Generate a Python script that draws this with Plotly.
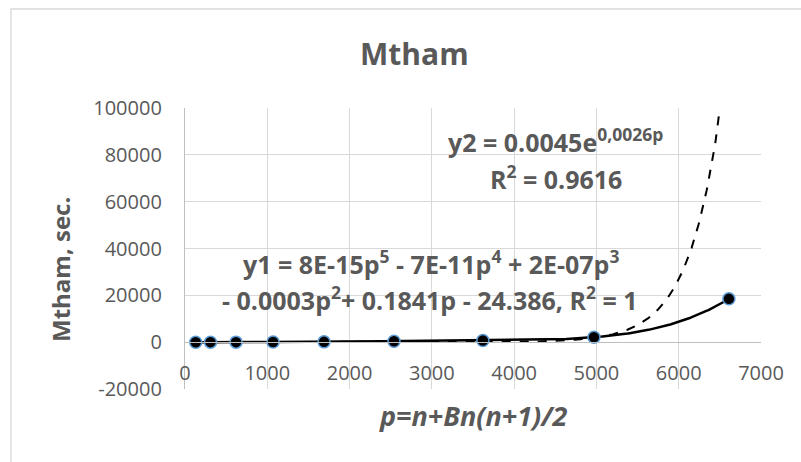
import numpy as np
import plotly.graph_objects as go

# Measured run times (seconds) against problem size p
p_vals = [130, 310, 620, 1070, 1690, 2540, 3620, 4970, 6610]
t_vals = [0.5, 3, 15, 45, 130, 380, 700, 2100, 18500]

# Exponential trendline y2 = a * e^(b p), coefficients as printed on the chart
exp_a = 0.0045
exp_b = 0.0026

x_tick_vals = [0, 1000, 2000, 3000, 4000, 5000, 6000, 7000]
y_tick_vals = [-20000, 0, 20000, 40000, 60000, 80000, 100000]
y_tick_text = ["-20000", "0", "20000", "40000", "60000", "80000", "100000"]

title_text = "Mtham"
x_title = "p=n+Bn(n+1)/2"
y_title = "Mtham, sec."
eq_y2 = ["y2 = 0.0045e<sup>0,0026p</sup>", "R<sup>2</sup> = 0.9616"]
eq_y1 = ["y1 = 8E-15p<sup>5</sup> - 7E-11p<sup>4</sup> + 2E-07p<sup>3</sup>",
         "- 0.0003p<sup>2</sup>+ 0.1841p - 24.386, R<sup>2</sup> = 1"]

W, H = 801, 462
ML, MR, MT, MB = 185, 40, 108, 73
FONT = "Open Sans"
GREY = "#595959"

# trendline curves
p_fine = np.linspace(min(p_vals), max(p_vals), 600)
poly_coef = np.polyfit(p_vals, t_vals, 5)
poly_curve = np.polyval(poly_coef, p_fine)
exp_curve = exp_a * np.exp(exp_b * p_fine)

fig = go.Figure()
fig.add_trace(go.Scatter(x=p_fine, y=exp_curve, mode="lines",
                         line=dict(color="black", width=2, dash="dash"),
                         hoverinfo="skip", showlegend=False))
fig.add_trace(go.Scatter(x=p_fine, y=poly_curve, mode="lines",
                         line=dict(color="black", width=2.5),
                         hoverinfo="skip", showlegend=False))
fig.add_trace(go.Scatter(x=p_vals, y=t_vals, mode="markers",
                         marker=dict(color="black", size=12,
                                     line=dict(color="#5B9BD5", width=1.5)),
                         showlegend=False))

y_lo, y_hi = y_tick_vals[0], y_tick_vals[-1]
zero_frac = (0 - y_lo) / (y_hi - y_lo)

fig.update_xaxes(range=[x_tick_vals[0], x_tick_vals[-1]], tickvals=x_tick_vals,
                 ticktext=[str(v) for v in x_tick_vals],
                 showgrid=True, gridcolor="#D9D9D9", gridwidth=1,
                 anchor="free", position=zero_frac,
                 showline=True, linecolor="#BFBFBF", linewidth=1.3,
                 zeroline=False, ticks="", ticklabelstandoff=13,
                 tickfont=dict(family=FONT, size=20, color=GREY))
fig.update_yaxes(range=[y_lo, y_hi], tickvals=y_tick_vals, ticktext=y_tick_text,
                 showgrid=True, gridcolor="#D9D9D9", gridwidth=1,
                 showline=True, linecolor="#BFBFBF", linewidth=1.3,
                 zeroline=False, ticks="", ticklabelstandoff=18,
                 tickfont=dict(family=FONT, size=20, color=GREY))

pw = W - ML - MR
ph = H - MT - MB


def px_to_paper(x, y):
    return (x - ML) / pw, (H - MB - y) / ph


annotations = []
# chart title
tx, ty = px_to_paper(414, 53)
annotations.append(dict(text=title_text, x=tx, y=ty, xref="paper", yref="paper",
                        showarrow=False, xanchor="center", yanchor="middle",
                        font=dict(family=FONT, size=30, color=GREY, weight="bold")))
# axis titles
tx, ty = px_to_paper(473, 415)
annotations.append(dict(text="<i>" + x_title + "</i>", x=tx, y=ty, xref="paper", yref="paper",
                        showarrow=False, xanchor="center", yanchor="middle",
                        font=dict(family=FONT, size=27, color=GREY, weight="bold")))
tx, ty = px_to_paper(60, 270)
annotations.append(dict(text=y_title, x=tx, y=ty, xref="paper", yref="paper",
                        showarrow=False, xanchor="center", yanchor="middle", textangle=-90,
                        font=dict(family=FONT, size=24, color=GREY, weight="bold")))

# trendline equations, placed in data coordinates
eq_font = dict(family=FONT, size=25, color=GREY, weight="bold")
for txt, (xv, yv) in zip(eq_y2, [(4500, 86300), (4510, 70500)]):
    annotations.append(dict(text=txt, x=xv, y=yv, xref="x", yref="y", showarrow=False,
                            xanchor="center", yanchor="middle", font=eq_font))
for txt, (xv, yv) in zip(eq_y1, [(2990, 34200), (2980, 18800)]):
    annotations.append(dict(text=txt, x=xv, y=yv, xref="x", yref="y", showarrow=False,
                            xanchor="center", yanchor="middle", font=eq_font))

# outer chart frame
bx0, by0 = px_to_paper(11, 9)
bx1, by1 = px_to_paper(W + 5, H + 5)
fig.add_shape(type="rect", xref="paper", yref="paper", x0=bx0, y0=by1, x1=bx1, y1=by0,
              line=dict(color="#D9D9D9", width=1.3), layer="below")

fig.update_layout(width=W, height=H, margin=dict(l=ML, r=MR, t=MT, b=MB),
                  paper_bgcolor="white", plot_bgcolor="white",
                  annotations=annotations, showlegend=False)

fig.write_html("out.html")
